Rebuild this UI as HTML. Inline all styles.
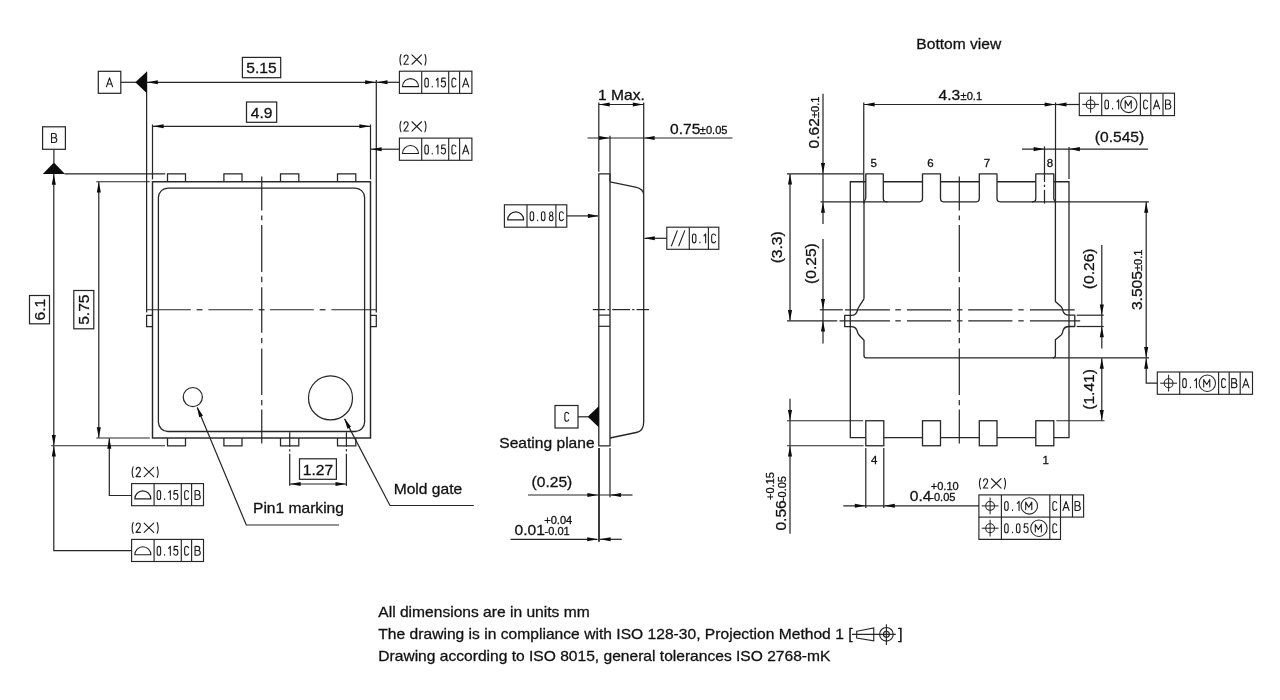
<!DOCTYPE html>
<html><head><meta charset="utf-8"><title>Package outline</title>
<style>
html,body{margin:0;padding:0;background:#fff;}
body{width:1280px;height:700px;overflow:hidden;font-family:"Liberation Sans",sans-serif;}
svg{display:block;filter:grayscale(1);}
svg text{font-family:"Liberation Sans",sans-serif;fill:#111;}
</style></head>
<body>
<svg width="1280" height="700" viewBox="0 0 1280 700">
<rect width="1280" height="700" fill="#fff"/>
<rect x="152.5" y="181.75" width="218" height="256.25" stroke="#262626" stroke-width="1.45" fill="none"/>
<rect x="158.4" y="188.1" width="206.2" height="243.4" rx="9.5" ry="9.5" stroke="#262626" stroke-width="1.3" fill="none"/>
<path d="M167.5 181.75L167.5 173.75L185.5 173.75L185.5 181.75" stroke="#262626" stroke-width="1.25" fill="none" />
<path d="M167.5 438L167.5 445.75L185.5 445.75L185.5 438" stroke="#262626" stroke-width="1.25" fill="none" />
<path d="M223.9 181.75L223.9 173.75L242.0 173.75L242.0 181.75" stroke="#262626" stroke-width="1.25" fill="none" />
<path d="M223.9 438L223.9 445.75L242.0 445.75L242.0 438" stroke="#262626" stroke-width="1.25" fill="none" />
<path d="M280.5 181.75L280.5 173.75L298.8 173.75L298.8 181.75" stroke="#262626" stroke-width="1.25" fill="none" />
<path d="M280.5 438L280.5 445.75L298.8 445.75L298.8 438" stroke="#262626" stroke-width="1.25" fill="none" />
<path d="M337.5 181.75L337.5 173.75L355.8 173.75L355.8 181.75" stroke="#262626" stroke-width="1.25" fill="none" />
<path d="M337.5 438L337.5 445.75L355.8 445.75L355.8 438" stroke="#262626" stroke-width="1.25" fill="none" />
<line x1="146.6" y1="71.75" x2="146.6" y2="312.4" stroke="#262626" stroke-width="1.25"/>
<line x1="376.3" y1="80" x2="376.3" y2="312.4" stroke="#262626" stroke-width="1.25"/>
<path d="M152.5 315.3L146.6 315.3L146.6 326.5L152.5 326.5" stroke="#262626" stroke-width="1.25" fill="none" />
<path d="M370.5 315.3L376.3 315.3L376.3 326.5L370.5 326.5" stroke="#262626" stroke-width="1.25" fill="none" />
<line x1="152.5" y1="124.5" x2="152.5" y2="179.4" stroke="#262626" stroke-width="1.22"/>
<line x1="370.5" y1="124.5" x2="370.5" y2="179.4" stroke="#262626" stroke-width="1.22"/>
<line x1="146.3" y1="309.75" x2="190.8" y2="309.75" stroke="#262626" stroke-width="1.22"/>
<line x1="196.6" y1="309.75" x2="202.5" y2="309.75" stroke="#262626" stroke-width="1.22"/>
<line x1="208.4" y1="309.75" x2="252.9" y2="309.75" stroke="#262626" stroke-width="1.22"/>
<line x1="258.7" y1="309.75" x2="264.5" y2="309.75" stroke="#262626" stroke-width="1.22"/>
<line x1="269.9" y1="309.75" x2="313.8" y2="309.75" stroke="#262626" stroke-width="1.22"/>
<line x1="319.7" y1="309.75" x2="325.5" y2="309.75" stroke="#262626" stroke-width="1.22"/>
<line x1="331.4" y1="309.75" x2="376.5" y2="309.75" stroke="#262626" stroke-width="1.22"/>
<line x1="261.75" y1="176.6" x2="261.75" y2="210.6" stroke="#262626" stroke-width="1.22"/>
<line x1="261.75" y1="215.5" x2="261.75" y2="220.2" stroke="#262626" stroke-width="1.22"/>
<line x1="261.75" y1="225" x2="261.75" y2="271.9" stroke="#262626" stroke-width="1.22"/>
<line x1="261.75" y1="276.8" x2="261.75" y2="282.2" stroke="#262626" stroke-width="1.22"/>
<line x1="261.75" y1="287.2" x2="261.75" y2="332.8" stroke="#262626" stroke-width="1.22"/>
<line x1="261.75" y1="338" x2="261.75" y2="343.2" stroke="#262626" stroke-width="1.22"/>
<line x1="261.75" y1="348.5" x2="261.75" y2="394.9" stroke="#262626" stroke-width="1.22"/>
<line x1="261.75" y1="399.9" x2="261.75" y2="405.3" stroke="#262626" stroke-width="1.22"/>
<line x1="261.75" y1="409.4" x2="261.75" y2="443.4" stroke="#262626" stroke-width="1.22"/>
<rect x="98.3" y="71.3" width="22.5" height="22" stroke="#262626" stroke-width="1.22" fill="none"/>
<line x1="120.8" y1="82.3" x2="136" y2="82.3" stroke="#262626" stroke-width="1.22"/>
<polygon points="135.3,82.3 146.9,71.4 146.9,93.2" fill="#0c0c0c"/>
<path transform="translate(106.45 77.85) scale(0.89)" d="M0 10L3.45 0L6.9 10M1.05 6.9L5.85 6.9" stroke="#1e1e1e" stroke-width="1.24" fill="none" stroke-linecap="round" stroke-linejoin="round"/>
<line x1="147" y1="82.3" x2="376" y2="82.3" stroke="#262626" stroke-width="1.22"/>
<polygon points="147.2,82.3 157.8,80.25 157.8,84.35" fill="#0c0c0c"/>
<polygon points="375.7,82.3 365.1,84.35 365.1,80.25" fill="#0c0c0c"/>
<rect x="242.4" y="57.4" width="38.3" height="20.3" stroke="#262626" stroke-width="1.22" fill="none"/>
<text transform="translate(261.5 73.4) scale(1 0.93)" font-size="15.6" text-anchor="middle" stroke="#111" stroke-width="0.3" >5.15</text>
<line x1="152.5" y1="126.3" x2="370.5" y2="126.3" stroke="#262626" stroke-width="1.22"/>
<polygon points="153,126.3 163.6,124.25 163.6,128.35" fill="#0c0c0c"/>
<polygon points="370,126.3 359.4,128.35 359.4,124.25" fill="#0c0c0c"/>
<rect x="246.5" y="102" width="30.2" height="20.3" stroke="#262626" stroke-width="1.22" fill="none"/>
<text transform="translate(261.6 117.9) scale(1 0.93)" font-size="15.6" text-anchor="middle" stroke="#111" stroke-width="0.3" >4.9</text>
<line x1="376.8" y1="82.3" x2="399.4" y2="82.3" stroke="#262626" stroke-width="1.22"/>
<polygon points="376.9,82.3 387.5,80.25 387.5,84.35" fill="#0c0c0c"/>
<rect x="399.4" y="71.2" width="72.5" height="22.2" stroke="#262626" stroke-width="1.15" fill="none"/>
<line x1="421.7" y1="71.2" x2="421.7" y2="93.4" stroke="#262626" stroke-width="1.15"/>
<line x1="448.7" y1="71.2" x2="448.7" y2="93.4" stroke="#262626" stroke-width="1.15"/>
<line x1="459.6" y1="71.2" x2="459.6" y2="93.4" stroke="#262626" stroke-width="1.15"/>
<path d="M402.5 86.6L418.5 86.6A8 8 0 0 0 402.5 86.6Z" stroke="#1e1e1e" stroke-width="1.1" fill="none" stroke-linejoin="round"/>
<path transform="translate(424.85 78.15) scale(0.89)" d="M1.95 0C0.75 0 0 1 0 2.6L0 7.4C0 9 0.75 10 1.95 10C3.15 10 3.9 9 3.9 7.4L3.9 2.6C3.9 1 3.15 0 1.95 0Z" stroke="#1e1e1e" stroke-width="1.24" fill="none" stroke-linecap="round" stroke-linejoin="round"/>
<path transform="translate(431.95 78.15) scale(0.89)" d="M0.3 9.2L0.3 10" stroke="#1e1e1e" stroke-width="1.24" fill="none" stroke-linecap="round" stroke-linejoin="round"/>
<path transform="translate(436.25 78.15) scale(0.89)" d="M0 2.2L1.9 0L1.9 10" stroke="#1e1e1e" stroke-width="1.24" fill="none" stroke-linecap="round" stroke-linejoin="round"/>
<path transform="translate(441.25 78.15) scale(0.89)" d="M4.5 0L0.7 0L0.3 4.4C1.1 3.6 1.8 3.4 2.5 3.4C3.9 3.4 4.8 4.7 4.8 6.7C4.8 8.7 3.8 10 2.4 10C1.3 10 0.5 9.4 0 8.2" stroke="#1e1e1e" stroke-width="1.24" fill="none" stroke-linecap="round" stroke-linejoin="round"/>
<path transform="translate(451.95 78.15) scale(0.89)" d="M4.4 1.6C4 0.6 3.3 0 2.3 0C0.85 0 0 1 0 2.6L0 7.4C0 9 0.85 10 2.3 10C3.3 10 4 9.4 4.4 8.4" stroke="#1e1e1e" stroke-width="1.24" fill="none" stroke-linecap="round" stroke-linejoin="round"/>
<path transform="translate(462.65 78.15) scale(0.89)" d="M0 10L3.45 0L6.9 10M1.05 6.9L5.85 6.9" stroke="#1e1e1e" stroke-width="1.24" fill="none" stroke-linecap="round" stroke-linejoin="round"/>
<path transform="translate(399.95 54.95) scale(0.93)" d="M1.1 -0.5C0.35 1.3 0 3.1 0 5.2C0 7.3 0.35 9.1 1.1 10.9" stroke="#1e1e1e" stroke-width="1.18" fill="none" stroke-linecap="round" stroke-linejoin="round"/>
<path transform="translate(403.85 54.95) scale(0.93)" d="M0.2 2.4C0.3 0.9 1.1 0 2.4 0C3.7 0 4.6 0.9 4.6 2.4C4.6 3.6 4 4.6 2.9 6L0 10L4.8 10" stroke="#1e1e1e" stroke-width="1.18" fill="none" stroke-linecap="round" stroke-linejoin="round"/>
<path transform="translate(411.95 54.95) scale(0.93)" d="M0 0L10.3 10M10.3 0L0 10" stroke="#1e1e1e" stroke-width="1.18" fill="none" stroke-linecap="round" stroke-linejoin="round"/>
<path transform="translate(424.95 54.95) scale(0.93)" d="M0 -0.5C0.75 1.3 1.1 3.1 1.1 5.2C1.1 7.3 0.75 9.1 0 10.9" stroke="#1e1e1e" stroke-width="1.18" fill="none" stroke-linecap="round" stroke-linejoin="round"/>
<rect x="399.4" y="138.1" width="72.5" height="22.2" stroke="#262626" stroke-width="1.15" fill="none"/>
<line x1="421.7" y1="138.1" x2="421.7" y2="160.3" stroke="#262626" stroke-width="1.15"/>
<line x1="448.7" y1="138.1" x2="448.7" y2="160.3" stroke="#262626" stroke-width="1.15"/>
<line x1="459.6" y1="138.1" x2="459.6" y2="160.3" stroke="#262626" stroke-width="1.15"/>
<path d="M402.5 153.5L418.5 153.5A8 8 0 0 0 402.5 153.5Z" stroke="#1e1e1e" stroke-width="1.1" fill="none" stroke-linejoin="round"/>
<path transform="translate(424.85 145.05) scale(0.89)" d="M1.95 0C0.75 0 0 1 0 2.6L0 7.4C0 9 0.75 10 1.95 10C3.15 10 3.9 9 3.9 7.4L3.9 2.6C3.9 1 3.15 0 1.95 0Z" stroke="#1e1e1e" stroke-width="1.24" fill="none" stroke-linecap="round" stroke-linejoin="round"/>
<path transform="translate(431.95 145.05) scale(0.89)" d="M0.3 9.2L0.3 10" stroke="#1e1e1e" stroke-width="1.24" fill="none" stroke-linecap="round" stroke-linejoin="round"/>
<path transform="translate(436.25 145.05) scale(0.89)" d="M0 2.2L1.9 0L1.9 10" stroke="#1e1e1e" stroke-width="1.24" fill="none" stroke-linecap="round" stroke-linejoin="round"/>
<path transform="translate(441.25 145.05) scale(0.89)" d="M4.5 0L0.7 0L0.3 4.4C1.1 3.6 1.8 3.4 2.5 3.4C3.9 3.4 4.8 4.7 4.8 6.7C4.8 8.7 3.8 10 2.4 10C1.3 10 0.5 9.4 0 8.2" stroke="#1e1e1e" stroke-width="1.24" fill="none" stroke-linecap="round" stroke-linejoin="round"/>
<path transform="translate(451.95 145.05) scale(0.89)" d="M4.4 1.6C4 0.6 3.3 0 2.3 0C0.85 0 0 1 0 2.6L0 7.4C0 9 0.85 10 2.3 10C3.3 10 4 9.4 4.4 8.4" stroke="#1e1e1e" stroke-width="1.24" fill="none" stroke-linecap="round" stroke-linejoin="round"/>
<path transform="translate(462.65 145.05) scale(0.89)" d="M0 10L3.45 0L6.9 10M1.05 6.9L5.85 6.9" stroke="#1e1e1e" stroke-width="1.24" fill="none" stroke-linecap="round" stroke-linejoin="round"/>
<path transform="translate(399.95 121.75) scale(0.93)" d="M1.1 -0.5C0.35 1.3 0 3.1 0 5.2C0 7.3 0.35 9.1 1.1 10.9" stroke="#1e1e1e" stroke-width="1.18" fill="none" stroke-linecap="round" stroke-linejoin="round"/>
<path transform="translate(403.85 121.75) scale(0.93)" d="M0.2 2.4C0.3 0.9 1.1 0 2.4 0C3.7 0 4.6 0.9 4.6 2.4C4.6 3.6 4 4.6 2.9 6L0 10L4.8 10" stroke="#1e1e1e" stroke-width="1.18" fill="none" stroke-linecap="round" stroke-linejoin="round"/>
<path transform="translate(411.95 121.75) scale(0.93)" d="M0 0L10.3 10M10.3 0L0 10" stroke="#1e1e1e" stroke-width="1.18" fill="none" stroke-linecap="round" stroke-linejoin="round"/>
<path transform="translate(424.95 121.75) scale(0.93)" d="M0 -0.5C0.75 1.3 1.1 3.1 1.1 5.2C1.1 7.3 0.75 9.1 0 10.9" stroke="#1e1e1e" stroke-width="1.18" fill="none" stroke-linecap="round" stroke-linejoin="round"/>
<line x1="371" y1="149.2" x2="399.4" y2="149.2" stroke="#262626" stroke-width="1.22"/>
<polygon points="371,149.2 381.6,147.15 381.6,151.25" fill="#0c0c0c"/>
<rect x="42.6" y="126.8" width="22.8" height="22.5" stroke="#262626" stroke-width="1.22" fill="none"/>
<line x1="53.9" y1="149.3" x2="53.9" y2="163.2" stroke="#262626" stroke-width="1.22"/>
<polygon points="53.9,162.5 42.8,173.9 65,173.9" fill="#0c0c0c"/>
<path transform="translate(51.55 133.55) scale(0.89)" d="M0 0L0 10L3 10C4.7 10 5.9 8.9 5.9 7.3C5.9 5.7 4.7 4.7 3 4.7L0 4.7M3 4.7C4.4 4.7 5.3 3.8 5.3 2.35C5.3 0.9 4.4 0 3 0L0 0" stroke="#1e1e1e" stroke-width="1.24" fill="none" stroke-linecap="round" stroke-linejoin="round"/>
<line x1="64.5" y1="173.8" x2="165.2" y2="173.8" stroke="#262626" stroke-width="1.22"/>
<line x1="53.8" y1="174" x2="53.8" y2="445.5" stroke="#262626" stroke-width="1.22"/>
<polygon points="53.8,174.1 55.85,184.7 51.75,184.7" fill="#0c0c0c"/>
<polygon points="53.8,445.6 51.75,435 55.85,435" fill="#0c0c0c"/>
<line x1="51.2" y1="445.75" x2="165" y2="445.75" stroke="#262626" stroke-width="1.22"/>
<line x1="96.3" y1="181.75" x2="149.8" y2="181.75" stroke="#262626" stroke-width="1.22"/>
<line x1="96.3" y1="438" x2="149.8" y2="438" stroke="#262626" stroke-width="1.22"/>
<line x1="98.8" y1="182" x2="98.8" y2="437.8" stroke="#262626" stroke-width="1.22"/>
<polygon points="98.8,182 100.85,192.6 96.75,192.6" fill="#0c0c0c"/>
<polygon points="98.8,437.8 96.75,427.2 100.85,427.2" fill="#0c0c0c"/>
<rect x="29.5" y="295.5" width="20" height="28.3" stroke="#262626" stroke-width="1.22" fill="none"/>
<text transform="translate(45.1 309.7) rotate(-90) scale(1 0.93)" font-size="15.6" text-anchor="middle" stroke="#111" stroke-width="0.3" >6.1</text>
<rect x="73.8" y="290.5" width="20" height="38.3" stroke="#262626" stroke-width="1.22" fill="none"/>
<text transform="translate(89.4 309.7) rotate(-90) scale(1 0.93)" font-size="15.6" text-anchor="middle" stroke="#111" stroke-width="0.3" >5.75</text>
<rect x="131.6" y="483.6" width="71.9" height="22.1" stroke="#262626" stroke-width="1.15" fill="none"/>
<line x1="154.1" y1="483.6" x2="154.1" y2="505.7" stroke="#262626" stroke-width="1.15"/>
<line x1="181.3" y1="483.6" x2="181.3" y2="505.7" stroke="#262626" stroke-width="1.15"/>
<line x1="191.6" y1="483.6" x2="191.6" y2="505.7" stroke="#262626" stroke-width="1.15"/>
<path d="M134.85 498.9L150.85 498.9A8 8 0 0 0 134.85 498.9Z" stroke="#1e1e1e" stroke-width="1.1" fill="none" stroke-linejoin="round"/>
<path transform="translate(157.15 490.55) scale(0.89)" d="M1.95 0C0.75 0 0 1 0 2.6L0 7.4C0 9 0.75 10 1.95 10C3.15 10 3.9 9 3.9 7.4L3.9 2.6C3.9 1 3.15 0 1.95 0Z" stroke="#1e1e1e" stroke-width="1.24" fill="none" stroke-linecap="round" stroke-linejoin="round"/>
<path transform="translate(164.35 490.55) scale(0.89)" d="M0.3 9.2L0.3 10" stroke="#1e1e1e" stroke-width="1.24" fill="none" stroke-linecap="round" stroke-linejoin="round"/>
<path transform="translate(168.65 490.55) scale(0.89)" d="M0 2.2L1.9 0L1.9 10" stroke="#1e1e1e" stroke-width="1.24" fill="none" stroke-linecap="round" stroke-linejoin="round"/>
<path transform="translate(173.65 490.55) scale(0.89)" d="M4.5 0L0.7 0L0.3 4.4C1.1 3.6 1.8 3.4 2.5 3.4C3.9 3.4 4.8 4.7 4.8 6.7C4.8 8.7 3.8 10 2.4 10C1.3 10 0.5 9.4 0 8.2" stroke="#1e1e1e" stroke-width="1.24" fill="none" stroke-linecap="round" stroke-linejoin="round"/>
<path transform="translate(184.65 490.55) scale(0.89)" d="M4.4 1.6C4 0.6 3.3 0 2.3 0C0.85 0 0 1 0 2.6L0 7.4C0 9 0.85 10 2.3 10C3.3 10 4 9.4 4.4 8.4" stroke="#1e1e1e" stroke-width="1.24" fill="none" stroke-linecap="round" stroke-linejoin="round"/>
<path transform="translate(195.05 490.55) scale(0.89)" d="M0 0L0 10L3 10C4.7 10 5.9 8.9 5.9 7.3C5.9 5.7 4.7 4.7 3 4.7L0 4.7M3 4.7C4.4 4.7 5.3 3.8 5.3 2.35C5.3 0.9 4.4 0 3 0L0 0" stroke="#1e1e1e" stroke-width="1.24" fill="none" stroke-linecap="round" stroke-linejoin="round"/>
<path transform="translate(132.15 467.35) scale(0.93)" d="M1.1 -0.5C0.35 1.3 0 3.1 0 5.2C0 7.3 0.35 9.1 1.1 10.9" stroke="#1e1e1e" stroke-width="1.18" fill="none" stroke-linecap="round" stroke-linejoin="round"/>
<path transform="translate(136.05 467.35) scale(0.93)" d="M0.2 2.4C0.3 0.9 1.1 0 2.4 0C3.7 0 4.6 0.9 4.6 2.4C4.6 3.6 4 4.6 2.9 6L0 10L4.8 10" stroke="#1e1e1e" stroke-width="1.18" fill="none" stroke-linecap="round" stroke-linejoin="round"/>
<path transform="translate(144.15 467.35) scale(0.93)" d="M0 0L10.3 10M10.3 0L0 10" stroke="#1e1e1e" stroke-width="1.18" fill="none" stroke-linecap="round" stroke-linejoin="round"/>
<path transform="translate(157.15 467.35) scale(0.93)" d="M0 -0.5C0.75 1.3 1.1 3.1 1.1 5.2C1.1 7.3 0.75 9.1 0 10.9" stroke="#1e1e1e" stroke-width="1.18" fill="none" stroke-linecap="round" stroke-linejoin="round"/>
<path d="M131.5 495.5L109.3 495.5L109.3 438.2" stroke="#262626" stroke-width="1.22" fill="none" />
<polygon points="109.3,438.2 111.35,448.8 107.25,448.8" fill="#0c0c0c"/>
<rect x="131.6" y="539.4" width="71.9" height="22.1" stroke="#262626" stroke-width="1.15" fill="none"/>
<line x1="154.1" y1="539.4" x2="154.1" y2="561.5" stroke="#262626" stroke-width="1.15"/>
<line x1="181.3" y1="539.4" x2="181.3" y2="561.5" stroke="#262626" stroke-width="1.15"/>
<line x1="191.6" y1="539.4" x2="191.6" y2="561.5" stroke="#262626" stroke-width="1.15"/>
<path d="M134.85 554.7L150.85 554.7A8 8 0 0 0 134.85 554.7Z" stroke="#1e1e1e" stroke-width="1.1" fill="none" stroke-linejoin="round"/>
<path transform="translate(157.15 546.35) scale(0.89)" d="M1.95 0C0.75 0 0 1 0 2.6L0 7.4C0 9 0.75 10 1.95 10C3.15 10 3.9 9 3.9 7.4L3.9 2.6C3.9 1 3.15 0 1.95 0Z" stroke="#1e1e1e" stroke-width="1.24" fill="none" stroke-linecap="round" stroke-linejoin="round"/>
<path transform="translate(164.35 546.35) scale(0.89)" d="M0.3 9.2L0.3 10" stroke="#1e1e1e" stroke-width="1.24" fill="none" stroke-linecap="round" stroke-linejoin="round"/>
<path transform="translate(168.65 546.35) scale(0.89)" d="M0 2.2L1.9 0L1.9 10" stroke="#1e1e1e" stroke-width="1.24" fill="none" stroke-linecap="round" stroke-linejoin="round"/>
<path transform="translate(173.65 546.35) scale(0.89)" d="M4.5 0L0.7 0L0.3 4.4C1.1 3.6 1.8 3.4 2.5 3.4C3.9 3.4 4.8 4.7 4.8 6.7C4.8 8.7 3.8 10 2.4 10C1.3 10 0.5 9.4 0 8.2" stroke="#1e1e1e" stroke-width="1.24" fill="none" stroke-linecap="round" stroke-linejoin="round"/>
<path transform="translate(184.65 546.35) scale(0.89)" d="M4.4 1.6C4 0.6 3.3 0 2.3 0C0.85 0 0 1 0 2.6L0 7.4C0 9 0.85 10 2.3 10C3.3 10 4 9.4 4.4 8.4" stroke="#1e1e1e" stroke-width="1.24" fill="none" stroke-linecap="round" stroke-linejoin="round"/>
<path transform="translate(195.05 546.35) scale(0.89)" d="M0 0L0 10L3 10C4.7 10 5.9 8.9 5.9 7.3C5.9 5.7 4.7 4.7 3 4.7L0 4.7M3 4.7C4.4 4.7 5.3 3.8 5.3 2.35C5.3 0.9 4.4 0 3 0L0 0" stroke="#1e1e1e" stroke-width="1.24" fill="none" stroke-linecap="round" stroke-linejoin="round"/>
<path transform="translate(132.15 523.05) scale(0.93)" d="M1.1 -0.5C0.35 1.3 0 3.1 0 5.2C0 7.3 0.35 9.1 1.1 10.9" stroke="#1e1e1e" stroke-width="1.18" fill="none" stroke-linecap="round" stroke-linejoin="round"/>
<path transform="translate(136.05 523.05) scale(0.93)" d="M0.2 2.4C0.3 0.9 1.1 0 2.4 0C3.7 0 4.6 0.9 4.6 2.4C4.6 3.6 4 4.6 2.9 6L0 10L4.8 10" stroke="#1e1e1e" stroke-width="1.18" fill="none" stroke-linecap="round" stroke-linejoin="round"/>
<path transform="translate(144.15 523.05) scale(0.93)" d="M0 0L10.3 10M10.3 0L0 10" stroke="#1e1e1e" stroke-width="1.18" fill="none" stroke-linecap="round" stroke-linejoin="round"/>
<path transform="translate(157.15 523.05) scale(0.93)" d="M0 -0.5C0.75 1.3 1.1 3.1 1.1 5.2C1.1 7.3 0.75 9.1 0 10.9" stroke="#1e1e1e" stroke-width="1.18" fill="none" stroke-linecap="round" stroke-linejoin="round"/>
<path d="M131.5 550.7L53.8 550.7L53.8 446" stroke="#262626" stroke-width="1.22" fill="none" />
<polygon points="53.8,446 55.85,456.6 51.75,456.6" fill="#0c0c0c"/>
<circle cx="192.8" cy="397.1" r="9.6" stroke="#262626" stroke-width="1.22" fill="none"/>
<path d="M197.3 407.6L246.3 525L339 525" stroke="#262626" stroke-width="1.22" fill="none" />
<polygon points="197,406.8 202.97,415.79 199.19,417.37" fill="#0c0c0c"/>
<text transform="translate(253 513.3) scale(1 0.93)" font-size="15.6" text-anchor="start" stroke="#111" stroke-width="0.3" >Pin1 marking</text>
<circle cx="330.5" cy="397.9" r="22" stroke="#262626" stroke-width="1.22" fill="none"/>
<path d="M344.6 418.9L390 505.5L473.8 505.5" stroke="#262626" stroke-width="1.22" fill="none" />
<polygon points="344.3,418.3 351.04,426.74 347.41,428.64" fill="#0c0c0c"/>
<text transform="translate(393.7 494.3) scale(1 0.93)" font-size="15.6" text-anchor="start" stroke="#111" stroke-width="0.3" >Mold gate</text>
<line x1="289.7" y1="432.3" x2="289.7" y2="446.8" stroke="#262626" stroke-width="1.22"/>
<line x1="289.7" y1="449.2" x2="289.7" y2="451.4" stroke="#262626" stroke-width="1.22"/>
<line x1="289.7" y1="453.8" x2="289.7" y2="485.8" stroke="#262626" stroke-width="1.22"/>
<line x1="346.4" y1="432.3" x2="346.4" y2="446.8" stroke="#262626" stroke-width="1.22"/>
<line x1="346.4" y1="449.2" x2="346.4" y2="451.4" stroke="#262626" stroke-width="1.22"/>
<line x1="346.4" y1="453.8" x2="346.4" y2="485.8" stroke="#262626" stroke-width="1.22"/>
<line x1="289.7" y1="484" x2="346.4" y2="484" stroke="#262626" stroke-width="1.22"/>
<polygon points="290,484 300.6,481.95 300.6,486.05" fill="#0c0c0c"/>
<polygon points="346.1,484 335.5,486.05 335.5,481.95" fill="#0c0c0c"/>
<rect x="299.5" y="458.8" width="36.9" height="20.5" stroke="#262626" stroke-width="1.22" fill="none"/>
<text transform="translate(318 474.5) scale(1 0.93)" font-size="15.6" text-anchor="middle" stroke="#111" stroke-width="0.3" >1.27</text>
<path d="M598.8 445.9L598.8 173.8L610 173.8L610 445.9Z" stroke="#262626" stroke-width="1.3" fill="none" />
<line x1="598.8" y1="315.1" x2="610" y2="315.1" stroke="#262626" stroke-width="1.2"/>
<line x1="598.8" y1="326.3" x2="610" y2="326.3" stroke="#262626" stroke-width="1.2"/>
<path d="M610 181.8L635.5 187.1C640.8 188.3 643.7 190.4 643.7 194.8L643.7 421.9C643.7 428.5 641.5 431.4 636.2 432.5L610 438" stroke="#262626" stroke-width="1.3" fill="none" />
<line x1="598.8" y1="102.5" x2="598.8" y2="171.8" stroke="#262626" stroke-width="1.22"/>
<line x1="643.7" y1="102.5" x2="643.7" y2="194" stroke="#262626" stroke-width="1.22"/>
<line x1="610" y1="135.8" x2="610" y2="181.4" stroke="#262626" stroke-width="1.22"/>
<line x1="598.8" y1="104.5" x2="643.7" y2="104.5" stroke="#262626" stroke-width="1.22"/>
<polygon points="599.1,104.5 609.7,102.45 609.7,106.55" fill="#0c0c0c"/>
<polygon points="643.4,104.5 632.8,106.55 632.8,102.45" fill="#0c0c0c"/>
<text transform="translate(598 100) scale(1 0.93)" font-size="15.6" text-anchor="start" stroke="#111" stroke-width="0.3" >1 Max.</text>
<line x1="587.5" y1="138" x2="732.5" y2="138" stroke="#262626" stroke-width="1.22"/>
<polygon points="609.7,138 599.1,140.05 599.1,135.95" fill="#0c0c0c"/>
<polygon points="644,138 654.6,135.95 654.6,140.05" fill="#0c0c0c"/>
<text transform="translate(670 133.8) scale(1 0.93)" font-size="15.6" text-anchor="start" stroke="#111" stroke-width="0.3" >0.75</text>
<text transform="translate(699.8 133.8) scale(1 0.93)" font-size="11.1" text-anchor="start" stroke="#111" stroke-width="0.3" >±0.05</text>
<rect x="504.4" y="204.8" width="62.4" height="22.4" stroke="#262626" stroke-width="1.15" fill="none"/>
<line x1="527" y1="204.8" x2="527" y2="227.2" stroke="#262626" stroke-width="1.15"/>
<line x1="555.9" y1="204.8" x2="555.9" y2="227.2" stroke="#262626" stroke-width="1.15"/>
<path d="M507.7 219.9L523.7 219.9A8 8 0 0 0 507.7 219.9Z" stroke="#1e1e1e" stroke-width="1.1" fill="none" stroke-linejoin="round"/>
<path transform="translate(530.15 211.75) scale(0.89)" d="M1.95 0C0.75 0 0 1 0 2.6L0 7.4C0 9 0.75 10 1.95 10C3.15 10 3.9 9 3.9 7.4L3.9 2.6C3.9 1 3.15 0 1.95 0Z" stroke="#1e1e1e" stroke-width="1.24" fill="none" stroke-linecap="round" stroke-linejoin="round"/>
<path transform="translate(537.35 211.75) scale(0.89)" d="M0.3 9.2L0.3 10" stroke="#1e1e1e" stroke-width="1.24" fill="none" stroke-linecap="round" stroke-linejoin="round"/>
<path transform="translate(541.45 211.75) scale(0.89)" d="M1.95 0C0.75 0 0 1 0 2.6L0 7.4C0 9 0.75 10 1.95 10C3.15 10 3.9 9 3.9 7.4L3.9 2.6C3.9 1 3.15 0 1.95 0Z" stroke="#1e1e1e" stroke-width="1.24" fill="none" stroke-linecap="round" stroke-linejoin="round"/>
<path transform="translate(549.35 211.75) scale(0.89)" d="M2.1 0C0.95 0 0.3 0.9 0.3 2.2C0.3 3.6 0.95 4.5 2.1 4.5C3.25 4.5 3.9 3.6 3.9 2.2C3.9 0.9 3.25 0 2.1 0ZM2.1 4.5C0.85 4.5 0 5.6 0 7.2C0 8.9 0.85 10 2.1 10C3.35 10 4.2 8.9 4.2 7.2C4.2 5.6 3.35 4.5 2.1 4.5Z" stroke="#1e1e1e" stroke-width="1.24" fill="none" stroke-linecap="round" stroke-linejoin="round"/>
<path transform="translate(559.45 211.75) scale(0.89)" d="M4.4 1.6C4 0.6 3.3 0 2.3 0C0.85 0 0 1 0 2.6L0 7.4C0 9 0.85 10 2.3 10C3.3 10 4 9.4 4.4 8.4" stroke="#1e1e1e" stroke-width="1.24" fill="none" stroke-linecap="round" stroke-linejoin="round"/>
<line x1="566.8" y1="215.9" x2="598" y2="215.9" stroke="#262626" stroke-width="1.22"/>
<polygon points="598.5,215.9 587.9,217.95 587.9,213.85" fill="#0c0c0c"/>
<rect x="666.8" y="227.2" width="52" height="22.1" stroke="#262626" stroke-width="1.15" fill="none"/>
<line x1="689.3" y1="227.2" x2="689.3" y2="249.3" stroke="#262626" stroke-width="1.15"/>
<line x1="708.4" y1="227.2" x2="708.4" y2="249.3" stroke="#262626" stroke-width="1.15"/>
<line x1="671.3" y1="246.3" x2="677.4" y2="230.4" stroke="#1e1e1e" stroke-width="1.1"/>
<line x1="678.6" y1="246.3" x2="684.9" y2="230.4" stroke="#1e1e1e" stroke-width="1.1"/>
<path transform="translate(692.45 233.95) scale(0.89)" d="M1.95 0C0.75 0 0 1 0 2.6L0 7.4C0 9 0.75 10 1.95 10C3.15 10 3.9 9 3.9 7.4L3.9 2.6C3.9 1 3.15 0 1.95 0Z" stroke="#1e1e1e" stroke-width="1.24" fill="none" stroke-linecap="round" stroke-linejoin="round"/>
<path transform="translate(699.65 233.95) scale(0.89)" d="M0.3 9.2L0.3 10" stroke="#1e1e1e" stroke-width="1.24" fill="none" stroke-linecap="round" stroke-linejoin="round"/>
<path transform="translate(703.95 233.95) scale(0.89)" d="M0 2.2L1.9 0L1.9 10" stroke="#1e1e1e" stroke-width="1.24" fill="none" stroke-linecap="round" stroke-linejoin="round"/>
<path transform="translate(711.65 233.95) scale(0.89)" d="M4.4 1.6C4 0.6 3.3 0 2.3 0C0.85 0 0 1 0 2.6L0 7.4C0 9 0.85 10 2.3 10C3.3 10 4 9.4 4.4 8.4" stroke="#1e1e1e" stroke-width="1.24" fill="none" stroke-linecap="round" stroke-linejoin="round"/>
<line x1="644.5" y1="238.3" x2="666.8" y2="238.3" stroke="#262626" stroke-width="1.22"/>
<polygon points="644.2,238.3 654.8,236.25 654.8,240.35" fill="#0c0c0c"/>
<line x1="592.8" y1="309.6" x2="605.3" y2="309.6" stroke="#262626" stroke-width="1.22"/>
<line x1="607.5" y1="309.6" x2="609.4" y2="309.6" stroke="#262626" stroke-width="1.22"/>
<line x1="612.2" y1="309.6" x2="630" y2="309.6" stroke="#262626" stroke-width="1.22"/>
<line x1="632.2" y1="309.6" x2="634.4" y2="309.6" stroke="#262626" stroke-width="1.22"/>
<line x1="636.6" y1="309.6" x2="649.1" y2="309.6" stroke="#262626" stroke-width="1.22"/>
<rect x="555" y="405.5" width="23" height="22.5" stroke="#262626" stroke-width="1.22" fill="none"/>
<path transform="translate(564.85 412.35) scale(0.89)" d="M4.4 1.6C4 0.6 3.3 0 2.3 0C0.85 0 0 1 0 2.6L0 7.4C0 9 0.85 10 2.3 10C3.3 10 4 9.4 4.4 8.4" stroke="#1e1e1e" stroke-width="1.24" fill="none" stroke-linecap="round" stroke-linejoin="round"/>
<line x1="578" y1="416.8" x2="588.5" y2="416.8" stroke="#262626" stroke-width="1.22"/>
<polygon points="587.7,416.8 599,406 599,427.6" fill="#0c0c0c"/>
<text transform="translate(499.3 447.6) scale(1 0.93)" font-size="15.6" text-anchor="start" stroke="#111" stroke-width="0.3" >Seating plane</text>
<line x1="599" y1="448.1" x2="599" y2="541.8" stroke="#262626" stroke-width="1.8"/>
<line x1="610" y1="448.1" x2="610" y2="497.2" stroke="#262626" stroke-width="1.22"/>
<line x1="528" y1="495" x2="610.5" y2="495" stroke="#262626" stroke-width="1.22"/>
<polygon points="598,495 587.4,497.05 587.4,492.95" fill="#0c0c0c"/>
<line x1="610.5" y1="495" x2="632.5" y2="495" stroke="#262626" stroke-width="1.22"/>
<polygon points="610.4,495 621,492.95 621,497.05" fill="#0c0c0c"/>
<text transform="translate(531.6 487.1) scale(1 0.93)" font-size="15.6" text-anchor="start" stroke="#111" stroke-width="0.3" >(0.25)</text>
<line x1="510.5" y1="539.3" x2="597.5" y2="539.3" stroke="#262626" stroke-width="1.22"/>
<polygon points="597.8,539.3 587.2,541.35 587.2,537.25" fill="#0c0c0c"/>
<line x1="600" y1="539.3" x2="621.8" y2="539.3" stroke="#262626" stroke-width="1.22"/>
<polygon points="600,539.3 610.6,537.25 610.6,541.35" fill="#0c0c0c"/>
<text transform="translate(514.6 534.9) scale(1 0.93)" font-size="15.6" text-anchor="start" stroke="#111" stroke-width="0.3" >0.01</text>
<text transform="translate(544.2 523.8) scale(1 0.93)" font-size="11.1" text-anchor="start" stroke="#111" stroke-width="0.3" >+0.04</text>
<text transform="translate(544.5 534.9) scale(1 0.93)" font-size="11.1" text-anchor="start" stroke="#111" stroke-width="0.3" >-0.01</text>
<text transform="translate(958.8 49.3) scale(1 0.93)" font-size="15.6" text-anchor="middle" stroke="#111" stroke-width="0.3" >Bottom view</text>
<path d="M850.3 313.6L850.3 181.75L866 181.75M883.3 181.75L922.5 181.75M940.5 181.75L979.3 181.75M997 181.75L1035.8 181.75M1053.8 181.75L1069 181.75L1069 313.6" stroke="#262626" stroke-width="1.3" fill="none" />
<path d="M850.3 328.4L850.3 437.6L865.8 437.6M883.8 437.6L922.5 437.6M940.5 437.6L979.3 437.6M997 437.6L1035.8 437.6M1053.8 437.6L1069 437.6L1069 328.4" stroke="#262626" stroke-width="1.3" fill="none" />
<line x1="850.3" y1="313.6" x2="850.3" y2="328.4" stroke="#262626" stroke-width="1.3"/>
<line x1="1069" y1="313.6" x2="1069" y2="328.4" stroke="#262626" stroke-width="1.3"/>
<path d="M864 298.8L864 203.5C864 200 865.8 200.5 865.8 197L865.8 173.8L883.3 173.8L883.3 198.6C883.3 200.6 884.4 201.8 886.4 201.8L919.4 201.8C921.4 201.8 922.5 200.6 922.5 198.6L922.5 173.8L940.5 173.8L940.5 198.6C940.5 200.6 941.6 201.8 943.6 201.8L976.2 201.8C978.2 201.8 979.3 200.6 979.3 198.6L979.3 173.8L997 173.8L997 198.6C997 200.6 998.1 201.8 1000.1 201.8L1032.7 201.8C1034.7 201.8 1035.8 200.6 1035.8 198.6L1035.8 173.8L1053.8 173.8L1053.8 198.6C1053.8 200.5 1055.4 200 1055.4 203.5L1055.4 301.4L1061.2 306.8C1063 308.5 1062.5 310.5 1063.5 312.3C1064.5 314.2 1066 315.2 1068.5 315.2L1074.8 315.2L1074.8 326.5L1068.5 326.5C1066 326.5 1064.5 327.5 1063.5 329.4C1062.5 331.2 1063 333.2 1061.2 334.9L1055.4 339.8L1055.4 355.5C1055.4 357.3 1054.8 357.9 1053 357.9L866.6 357.9C864.6 357.9 864 357.3 864 355.4L864 340.3L859.2 335.3C857.4 333.5 857.6 331.5 856.6 329.6C855.6 327.7 854 326.7 851.6 326.7L844.7 326.7L844.7 315.4L851.6 315.4C854 315.4 855.6 314.4 856.6 312.5C857.6 310.6 857.4 308.5 859.2 306.4L864 298.8" stroke="#262626" stroke-width="1.3" fill="none" stroke-linejoin="round"/>
<rect x="865.8" y="420.75" width="18" height="25" stroke="#262626" stroke-width="1.3" fill="none"/>
<rect x="922.5" y="420.75" width="18" height="25" stroke="#262626" stroke-width="1.3" fill="none"/>
<rect x="979.3" y="420.75" width="17.7" height="25" stroke="#262626" stroke-width="1.3" fill="none"/>
<rect x="1035.8" y="420.75" width="18" height="25" stroke="#262626" stroke-width="1.3" fill="none"/>
<text transform="translate(873.6 166.6) scale(1 0.93)" font-size="11.5" text-anchor="middle" stroke="#111" stroke-width="0.3" >5</text>
<text transform="translate(930.4 166.6) scale(1 0.93)" font-size="11.5" text-anchor="middle" stroke="#111" stroke-width="0.3" >6</text>
<text transform="translate(987 166.6) scale(1 0.93)" font-size="11.5" text-anchor="middle" stroke="#111" stroke-width="0.3" >7</text>
<text transform="translate(1050 166.6) scale(1 0.93)" font-size="11.5" text-anchor="middle" stroke="#111" stroke-width="0.3" >8</text>
<text transform="translate(874.2 463.8) scale(1 0.93)" font-size="11.5" text-anchor="middle" stroke="#111" stroke-width="0.3" >4</text>
<text transform="translate(1045.6 463.8) scale(1 0.93)" font-size="11.5" text-anchor="middle" stroke="#111" stroke-width="0.3" >1</text>
<line x1="959.3" y1="176.6" x2="959.3" y2="210.6" stroke="#262626" stroke-width="1.22"/>
<line x1="959.3" y1="215.5" x2="959.3" y2="220.2" stroke="#262626" stroke-width="1.22"/>
<line x1="959.3" y1="225" x2="959.3" y2="271.9" stroke="#262626" stroke-width="1.22"/>
<line x1="959.3" y1="276.8" x2="959.3" y2="282.2" stroke="#262626" stroke-width="1.22"/>
<line x1="959.3" y1="287.2" x2="959.3" y2="332.8" stroke="#262626" stroke-width="1.22"/>
<line x1="959.3" y1="338" x2="959.3" y2="343.2" stroke="#262626" stroke-width="1.22"/>
<line x1="959.3" y1="348.5" x2="959.3" y2="394.9" stroke="#262626" stroke-width="1.22"/>
<line x1="959.3" y1="399.9" x2="959.3" y2="405.3" stroke="#262626" stroke-width="1.22"/>
<line x1="959.3" y1="409.4" x2="959.3" y2="443.4" stroke="#262626" stroke-width="1.22"/>
<line x1="845" y1="309.8" x2="889.9" y2="309.8" stroke="#262626" stroke-width="1.22"/>
<line x1="895.3" y1="309.8" x2="900.8" y2="309.8" stroke="#262626" stroke-width="1.22"/>
<line x1="906.9" y1="309.8" x2="951.1" y2="309.8" stroke="#262626" stroke-width="1.22"/>
<line x1="957" y1="309.8" x2="962.5" y2="309.8" stroke="#262626" stroke-width="1.22"/>
<line x1="968.2" y1="309.8" x2="1012.4" y2="309.8" stroke="#262626" stroke-width="1.22"/>
<line x1="1018.3" y1="309.8" x2="1023.7" y2="309.8" stroke="#262626" stroke-width="1.22"/>
<line x1="1029.9" y1="309.8" x2="1074.7" y2="309.8" stroke="#262626" stroke-width="1.22"/>
<line x1="839.5" y1="320.85" x2="889.9" y2="320.85" stroke="#262626" stroke-width="1.22"/>
<line x1="895.3" y1="320.85" x2="900.8" y2="320.85" stroke="#262626" stroke-width="1.22"/>
<line x1="906.9" y1="320.85" x2="951.1" y2="320.85" stroke="#262626" stroke-width="1.22"/>
<line x1="957" y1="320.85" x2="962.5" y2="320.85" stroke="#262626" stroke-width="1.22"/>
<line x1="968.2" y1="320.85" x2="1012.4" y2="320.85" stroke="#262626" stroke-width="1.22"/>
<line x1="1018.3" y1="320.85" x2="1023.7" y2="320.85" stroke="#262626" stroke-width="1.22"/>
<line x1="1029.9" y1="320.85" x2="1080.2" y2="320.85" stroke="#262626" stroke-width="1.22"/>
<line x1="787" y1="320.85" x2="837.3" y2="320.85" stroke="#262626" stroke-width="1.22"/>
<line x1="819.8" y1="309.8" x2="842.8" y2="309.8" stroke="#262626" stroke-width="1.22"/>
<line x1="863.75" y1="102.5" x2="863.75" y2="203.5" stroke="#262626" stroke-width="1.22"/>
<line x1="1055.5" y1="102.5" x2="1055.5" y2="203.5" stroke="#262626" stroke-width="1.22"/>
<line x1="863.75" y1="104.5" x2="1055.5" y2="104.5" stroke="#262626" stroke-width="1.22"/>
<polygon points="864,104.5 874.6,102.45 874.6,106.55" fill="#0c0c0c"/>
<polygon points="1055.2,104.5 1044.6,106.55 1044.6,102.45" fill="#0c0c0c"/>
<text transform="translate(938.5 100.1) scale(1 0.93)" font-size="15.6" text-anchor="start" stroke="#111" stroke-width="0.3" >4.3</text>
<text transform="translate(960.6 100.1) scale(1 0.93)" font-size="11.1" text-anchor="start" stroke="#111" stroke-width="0.3" >±0.1</text>
<line x1="1056" y1="104.5" x2="1079.3" y2="104.5" stroke="#262626" stroke-width="1.22"/>
<polygon points="1055.9,104.5 1066.5,102.45 1066.5,106.55" fill="#0c0c0c"/>
<rect x="1079.3" y="93.2" width="95.2" height="22.4" stroke="#262626" stroke-width="1.15" fill="none"/>
<line x1="1101.7" y1="93.2" x2="1101.7" y2="115.6" stroke="#262626" stroke-width="1.15"/>
<line x1="1140.4" y1="93.2" x2="1140.4" y2="115.6" stroke="#262626" stroke-width="1.15"/>
<line x1="1150.8" y1="93.2" x2="1150.8" y2="115.6" stroke="#262626" stroke-width="1.15"/>
<line x1="1163" y1="93.2" x2="1163" y2="115.6" stroke="#262626" stroke-width="1.15"/>
<circle cx="1090.6" cy="104.4" r="4.4" stroke="#262626" stroke-width="1.05" fill="none"/>
<line x1="1082.2" y1="104.4" x2="1099" y2="104.4" stroke="#262626" stroke-width="1.05"/>
<line x1="1090.6" y1="96" x2="1090.6" y2="112.8" stroke="#262626" stroke-width="1.05"/>
<path transform="translate(1104.95 99.95) scale(0.9)" d="M1.95 0C0.75 0 0 1 0 2.6L0 7.4C0 9 0.75 10 1.95 10C3.15 10 3.9 9 3.9 7.4L3.9 2.6C3.9 1 3.15 0 1.95 0Z" stroke="#1e1e1e" stroke-width="1.22" fill="none" stroke-linecap="round" stroke-linejoin="round"/>
<path transform="translate(1112.35 99.95) scale(0.9)" d="M0.3 9.2L0.3 10" stroke="#1e1e1e" stroke-width="1.22" fill="none" stroke-linecap="round" stroke-linejoin="round"/>
<path transform="translate(1116.95 99.95) scale(0.9)" d="M0 2.2L1.9 0L1.9 10" stroke="#1e1e1e" stroke-width="1.22" fill="none" stroke-linecap="round" stroke-linejoin="round"/>
<circle cx="1128.8" cy="104.4" r="8.2" stroke="#262626" stroke-width="1.05" fill="none"/>
<path transform="translate(1125.2 100.65) scale(0.76)" d="M0 10L0 0L4 6.6L8 0L8 10" stroke="#1e1e1e" stroke-width="1.45" fill="none" stroke-linecap="round" stroke-linejoin="round"/>
<path transform="translate(1143.65 99.95) scale(0.9)" d="M4.4 1.6C4 0.6 3.3 0 2.3 0C0.85 0 0 1 0 2.6L0 7.4C0 9 0.85 10 2.3 10C3.3 10 4 9.4 4.4 8.4" stroke="#1e1e1e" stroke-width="1.22" fill="none" stroke-linecap="round" stroke-linejoin="round"/>
<path transform="translate(1153.45 99.95) scale(0.9)" d="M0 10L3.45 0L6.9 10M1.05 6.9L5.85 6.9" stroke="#1e1e1e" stroke-width="1.22" fill="none" stroke-linecap="round" stroke-linejoin="round"/>
<path transform="translate(1165.55 99.95) scale(0.9)" d="M0 0L0 10L3 10C4.7 10 5.9 8.9 5.9 7.3C5.9 5.7 4.7 4.7 3 4.7L0 4.7M3 4.7C4.4 4.7 5.3 3.8 5.3 2.35C5.3 0.9 4.4 0 3 0L0 0" stroke="#1e1e1e" stroke-width="1.22" fill="none" stroke-linecap="round" stroke-linejoin="round"/>
<line x1="1022" y1="149.1" x2="1148" y2="149.1" stroke="#262626" stroke-width="1.22"/>
<polygon points="1044.2,149.1 1033.6,151.15 1033.6,147.05" fill="#0c0c0c"/>
<polygon points="1069.3,149.1 1079.9,147.05 1079.9,151.15" fill="#0c0c0c"/>
<text transform="translate(1094.8 142) scale(1 0.93)" font-size="15.6" text-anchor="start" stroke="#111" stroke-width="0.3" >(0.545)</text>
<line x1="1044.5" y1="146.4" x2="1044.5" y2="181.9" stroke="#262626" stroke-width="1.22"/>
<line x1="1044.5" y1="184.7" x2="1044.5" y2="187" stroke="#262626" stroke-width="1.22"/>
<line x1="1044.5" y1="189.9" x2="1044.5" y2="203.6" stroke="#262626" stroke-width="1.22"/>
<line x1="1069" y1="147" x2="1069" y2="179" stroke="#262626" stroke-width="1.22"/>
<line x1="787" y1="173.8" x2="863.75" y2="173.8" stroke="#262626" stroke-width="1.22"/>
<line x1="820.5" y1="201.8" x2="887.5" y2="201.8" stroke="#262626" stroke-width="1.22"/>
<line x1="1032" y1="201.8" x2="1149" y2="201.8" stroke="#262626" stroke-width="1.22"/>
<line x1="823" y1="93.8" x2="823" y2="201.8" stroke="#262626" stroke-width="1.22"/>
<polygon points="823,173.6 820.95,163 825.05,163" fill="#0c0c0c"/>
<line x1="823" y1="202" x2="823" y2="224.1" stroke="#262626" stroke-width="1.22"/>
<polygon points="823,202.2 825.05,212.8 820.95,212.8" fill="#0c0c0c"/>
<line x1="823" y1="239.1" x2="823" y2="321" stroke="#262626" stroke-width="1.22"/>
<polygon points="823,309.6 820.95,299 825.05,299" fill="#0c0c0c"/>
<text transform="translate(818.8 122.5) rotate(-90) scale(1 0.93)" font-size="15.6" text-anchor="middle" stroke="#111" stroke-width="0.3" >0.62<tspan font-size="11.1">±0.1</tspan></text>
<line x1="790" y1="174" x2="790" y2="320.6" stroke="#262626" stroke-width="1.22"/>
<polygon points="790,174 792.05,184.6 787.95,184.6" fill="#0c0c0c"/>
<polygon points="790,320.7 787.95,310.1 792.05,310.1" fill="#0c0c0c"/>
<text transform="translate(781.8 247.3) rotate(-90) scale(1 0.93)" font-size="15.6" text-anchor="middle" stroke="#111" stroke-width="0.3" >(3.3)</text>
<text transform="translate(815.5 263.6) rotate(-90) scale(1 0.93)" font-size="15.6" text-anchor="middle" stroke="#111" stroke-width="0.3" >(0.25)</text>
<line x1="823" y1="321" x2="823" y2="343.5" stroke="#262626" stroke-width="1.22"/>
<polygon points="823,321 825.05,331.6 820.95,331.6" fill="#0c0c0c"/>
<line x1="1053" y1="357.9" x2="1149" y2="357.9" stroke="#262626" stroke-width="1.22"/>
<line x1="1146.2" y1="202" x2="1146.2" y2="357.7" stroke="#262626" stroke-width="1.22"/>
<polygon points="1146.2,202.1 1148.25,212.7 1144.15,212.7" fill="#0c0c0c"/>
<polygon points="1146.2,357.7 1144.15,347.1 1148.25,347.1" fill="#0c0c0c"/>
<text transform="translate(1142.4 279.8) rotate(-90) scale(1 0.93)" font-size="15.6" text-anchor="middle" stroke="#111" stroke-width="0.3" >3.505<tspan font-size="11.1">±0.1</tspan></text>
<path d="M1157.3 383.2L1146.2 383.2L1146.2 358.2" stroke="#262626" stroke-width="1.22" fill="none" />
<polygon points="1146.2,358.2 1148.25,368.8 1144.15,368.8" fill="#0c0c0c"/>
<rect x="1157.3" y="372" width="95.2" height="22.3" stroke="#262626" stroke-width="1.15" fill="none"/>
<line x1="1179.7" y1="372" x2="1179.7" y2="394.3" stroke="#262626" stroke-width="1.15"/>
<line x1="1218.6" y1="372" x2="1218.6" y2="394.3" stroke="#262626" stroke-width="1.15"/>
<line x1="1229.2" y1="372" x2="1229.2" y2="394.3" stroke="#262626" stroke-width="1.15"/>
<line x1="1240.2" y1="372" x2="1240.2" y2="394.3" stroke="#262626" stroke-width="1.15"/>
<circle cx="1168.6" cy="383.2" r="4.4" stroke="#262626" stroke-width="1.05" fill="none"/>
<line x1="1160.2" y1="383.2" x2="1177" y2="383.2" stroke="#262626" stroke-width="1.05"/>
<line x1="1168.6" y1="374.8" x2="1168.6" y2="391.6" stroke="#262626" stroke-width="1.05"/>
<path transform="translate(1182.75 378.65) scale(0.9)" d="M1.95 0C0.75 0 0 1 0 2.6L0 7.4C0 9 0.75 10 1.95 10C3.15 10 3.9 9 3.9 7.4L3.9 2.6C3.9 1 3.15 0 1.95 0Z" stroke="#1e1e1e" stroke-width="1.22" fill="none" stroke-linecap="round" stroke-linejoin="round"/>
<path transform="translate(1190.15 378.65) scale(0.9)" d="M0.3 9.2L0.3 10" stroke="#1e1e1e" stroke-width="1.22" fill="none" stroke-linecap="round" stroke-linejoin="round"/>
<path transform="translate(1194.75 378.65) scale(0.9)" d="M0 2.2L1.9 0L1.9 10" stroke="#1e1e1e" stroke-width="1.22" fill="none" stroke-linecap="round" stroke-linejoin="round"/>
<circle cx="1207.3" cy="383.2" r="8.2" stroke="#262626" stroke-width="1.05" fill="none"/>
<path transform="translate(1203.7 379.45) scale(0.76)" d="M0 10L0 0L4 6.6L8 0L8 10" stroke="#1e1e1e" stroke-width="1.45" fill="none" stroke-linecap="round" stroke-linejoin="round"/>
<path transform="translate(1221.65 378.65) scale(0.9)" d="M4.4 1.6C4 0.6 3.3 0 2.3 0C0.85 0 0 1 0 2.6L0 7.4C0 9 0.85 10 2.3 10C3.3 10 4 9.4 4.4 8.4" stroke="#1e1e1e" stroke-width="1.22" fill="none" stroke-linecap="round" stroke-linejoin="round"/>
<path transform="translate(1231.65 378.65) scale(0.9)" d="M0 0L0 10L3 10C4.7 10 5.9 8.9 5.9 7.3C5.9 5.7 4.7 4.7 3 4.7L0 4.7M3 4.7C4.4 4.7 5.3 3.8 5.3 2.35C5.3 0.9 4.4 0 3 0L0 0" stroke="#1e1e1e" stroke-width="1.22" fill="none" stroke-linecap="round" stroke-linejoin="round"/>
<path transform="translate(1242.75 378.65) scale(0.9)" d="M0 10L3.45 0L6.9 10M1.05 6.9L5.85 6.9" stroke="#1e1e1e" stroke-width="1.22" fill="none" stroke-linecap="round" stroke-linejoin="round"/>
<line x1="1076.7" y1="315.2" x2="1103.7" y2="315.2" stroke="#262626" stroke-width="1.22"/>
<line x1="1076.7" y1="326.5" x2="1103.7" y2="326.5" stroke="#262626" stroke-width="1.22"/>
<line x1="1101.8" y1="245" x2="1101.8" y2="326.6" stroke="#262626" stroke-width="1.22"/>
<polygon points="1101.8,315.1 1099.75,304.5 1103.85,304.5" fill="#0c0c0c"/>
<line x1="1101.8" y1="326.6" x2="1101.8" y2="348.6" stroke="#262626" stroke-width="1.22"/>
<polygon points="1101.8,326.6 1103.85,337.2 1099.75,337.2" fill="#0c0c0c"/>
<text transform="translate(1094.3 268.8) rotate(-90) scale(1 0.93)" font-size="15.6" text-anchor="middle" stroke="#111" stroke-width="0.3" >(0.26)</text>
<line x1="1056.3" y1="420.75" x2="1104.5" y2="420.75" stroke="#262626" stroke-width="1.22"/>
<line x1="1101.8" y1="358.2" x2="1101.8" y2="420.5" stroke="#262626" stroke-width="1.22"/>
<polygon points="1101.8,358.2 1103.85,368.8 1099.75,368.8" fill="#0c0c0c"/>
<polygon points="1101.8,420.6 1099.75,410 1103.85,410" fill="#0c0c0c"/>
<text transform="translate(1094.3 389.4) rotate(-90) scale(1 0.93)" font-size="15.6" text-anchor="middle" stroke="#111" stroke-width="0.3" >(1.41)</text>
<line x1="787" y1="420.75" x2="863.2" y2="420.75" stroke="#262626" stroke-width="1.22"/>
<line x1="787" y1="445.75" x2="863.6" y2="445.75" stroke="#262626" stroke-width="1.22"/>
<line x1="790" y1="398.8" x2="790" y2="446" stroke="#262626" stroke-width="1.22"/>
<polygon points="790,420.6 787.95,410 792.05,410" fill="#0c0c0c"/>
<line x1="790" y1="446" x2="790" y2="533.8" stroke="#262626" stroke-width="1.22"/>
<polygon points="790,446 792.05,456.6 787.95,456.6" fill="#0c0c0c"/>
<text transform="translate(785.5 530.6) rotate(-90) scale(1 0.93)" font-size="15.6" text-anchor="start" stroke="#111" stroke-width="0.3" >0.56</text>
<text transform="translate(773.6 499.9) rotate(-90) scale(1 0.93)" font-size="11" text-anchor="start" stroke="#111" stroke-width="0.3" >+0.15</text>
<text transform="translate(785.5 501.1) rotate(-90) scale(1 0.93)" font-size="11" text-anchor="start" stroke="#111" stroke-width="0.3" >-0.05</text>
<line x1="865.8" y1="448" x2="865.8" y2="508" stroke="#262626" stroke-width="1.22"/>
<line x1="883.8" y1="448" x2="883.8" y2="508" stroke="#262626" stroke-width="1.22"/>
<line x1="843.3" y1="505.8" x2="884.2" y2="505.8" stroke="#262626" stroke-width="1.22"/>
<polygon points="865.4,505.8 854.8,507.85 854.8,503.75" fill="#0c0c0c"/>
<line x1="884.2" y1="505.8" x2="979" y2="505.8" stroke="#262626" stroke-width="1.22"/>
<polygon points="884.2,505.8 894.8,503.75 894.8,507.85" fill="#0c0c0c"/>
<text transform="translate(909.8 501.3) scale(1 0.93)" font-size="15.6" text-anchor="start" stroke="#111" stroke-width="0.3" >0.4</text>
<text transform="translate(930.7 490.4) scale(1 0.93)" font-size="11.1" text-anchor="start" stroke="#111" stroke-width="0.3" >+0.10</text>
<text transform="translate(930.2 501.3) scale(1 0.93)" font-size="11.1" text-anchor="start" stroke="#111" stroke-width="0.3" >-0.05</text>
<path transform="translate(979.45 478.75) scale(0.93)" d="M1.1 -0.5C0.35 1.3 0 3.1 0 5.2C0 7.3 0.35 9.1 1.1 10.9" stroke="#1e1e1e" stroke-width="1.18" fill="none" stroke-linecap="round" stroke-linejoin="round"/>
<path transform="translate(983.35 478.75) scale(0.93)" d="M0.2 2.4C0.3 0.9 1.1 0 2.4 0C3.7 0 4.6 0.9 4.6 2.4C4.6 3.6 4 4.6 2.9 6L0 10L4.8 10" stroke="#1e1e1e" stroke-width="1.18" fill="none" stroke-linecap="round" stroke-linejoin="round"/>
<path transform="translate(991.45 478.75) scale(0.93)" d="M0 0L10.3 10M10.3 0L0 10" stroke="#1e1e1e" stroke-width="1.18" fill="none" stroke-linecap="round" stroke-linejoin="round"/>
<path transform="translate(1004.45 478.75) scale(0.93)" d="M0 -0.5C0.75 1.3 1.1 3.1 1.1 5.2C1.1 7.3 0.75 9.1 0 10.9" stroke="#1e1e1e" stroke-width="1.18" fill="none" stroke-linecap="round" stroke-linejoin="round"/>
<rect x="978.9" y="494.9" width="104.7" height="22.2" stroke="#262626" stroke-width="1.15" fill="none"/>
<path d="M978.9 517.1L978.9 539.4L1060.5 539.4L1060.5 517.1" stroke="#262626" stroke-width="1.15" fill="none" />
<line x1="1001.4" y1="494.9" x2="1001.4" y2="539.4" stroke="#262626" stroke-width="1.15"/>
<line x1="1049.8" y1="494.9" x2="1049.8" y2="539.4" stroke="#262626" stroke-width="1.15"/>
<line x1="1060.5" y1="494.9" x2="1060.5" y2="517.1" stroke="#262626" stroke-width="1.15"/>
<line x1="1072.5" y1="494.9" x2="1072.5" y2="517.1" stroke="#262626" stroke-width="1.15"/>
<circle cx="990.1" cy="505.9" r="4.4" stroke="#262626" stroke-width="1.05" fill="none"/>
<line x1="981.7" y1="505.9" x2="998.5" y2="505.9" stroke="#262626" stroke-width="1.05"/>
<line x1="990.1" y1="497.5" x2="990.1" y2="514.3" stroke="#262626" stroke-width="1.05"/>
<circle cx="990.1" cy="528.2" r="4.4" stroke="#262626" stroke-width="1.05" fill="none"/>
<line x1="981.7" y1="528.2" x2="998.5" y2="528.2" stroke="#262626" stroke-width="1.05"/>
<line x1="990.1" y1="519.8" x2="990.1" y2="536.6" stroke="#262626" stroke-width="1.05"/>
<path transform="translate(1004.65 501.45) scale(0.9)" d="M1.95 0C0.75 0 0 1 0 2.6L0 7.4C0 9 0.75 10 1.95 10C3.15 10 3.9 9 3.9 7.4L3.9 2.6C3.9 1 3.15 0 1.95 0Z" stroke="#1e1e1e" stroke-width="1.22" fill="none" stroke-linecap="round" stroke-linejoin="round"/>
<path transform="translate(1012.25 501.45) scale(0.9)" d="M0.3 9.2L0.3 10" stroke="#1e1e1e" stroke-width="1.22" fill="none" stroke-linecap="round" stroke-linejoin="round"/>
<path transform="translate(1017.35 501.45) scale(0.9)" d="M0 2.2L1.9 0L1.9 10" stroke="#1e1e1e" stroke-width="1.22" fill="none" stroke-linecap="round" stroke-linejoin="round"/>
<circle cx="1029.3" cy="505.9" r="8.2" stroke="#262626" stroke-width="1.05" fill="none"/>
<path transform="translate(1025.7 502.15) scale(0.76)" d="M0 10L0 0L4 6.6L8 0L8 10" stroke="#1e1e1e" stroke-width="1.45" fill="none" stroke-linecap="round" stroke-linejoin="round"/>
<path transform="translate(1052.85 501.45) scale(0.9)" d="M4.4 1.6C4 0.6 3.3 0 2.3 0C0.85 0 0 1 0 2.6L0 7.4C0 9 0.85 10 2.3 10C3.3 10 4 9.4 4.4 8.4" stroke="#1e1e1e" stroke-width="1.22" fill="none" stroke-linecap="round" stroke-linejoin="round"/>
<path transform="translate(1062.95 501.45) scale(0.9)" d="M0 10L3.45 0L6.9 10M1.05 6.9L5.85 6.9" stroke="#1e1e1e" stroke-width="1.22" fill="none" stroke-linecap="round" stroke-linejoin="round"/>
<path transform="translate(1075.05 501.45) scale(0.9)" d="M0 0L0 10L3 10C4.7 10 5.9 8.9 5.9 7.3C5.9 5.7 4.7 4.7 3 4.7L0 4.7M3 4.7C4.4 4.7 5.3 3.8 5.3 2.35C5.3 0.9 4.4 0 3 0L0 0" stroke="#1e1e1e" stroke-width="1.22" fill="none" stroke-linecap="round" stroke-linejoin="round"/>
<path transform="translate(1004.65 523.75) scale(0.9)" d="M1.95 0C0.75 0 0 1 0 2.6L0 7.4C0 9 0.75 10 1.95 10C3.15 10 3.9 9 3.9 7.4L3.9 2.6C3.9 1 3.15 0 1.95 0Z" stroke="#1e1e1e" stroke-width="1.22" fill="none" stroke-linecap="round" stroke-linejoin="round"/>
<path transform="translate(1012.25 523.75) scale(0.9)" d="M0.3 9.2L0.3 10" stroke="#1e1e1e" stroke-width="1.22" fill="none" stroke-linecap="round" stroke-linejoin="round"/>
<path transform="translate(1016.45 523.75) scale(0.9)" d="M1.95 0C0.75 0 0 1 0 2.6L0 7.4C0 9 0.75 10 1.95 10C3.15 10 3.9 9 3.9 7.4L3.9 2.6C3.9 1 3.15 0 1.95 0Z" stroke="#1e1e1e" stroke-width="1.22" fill="none" stroke-linecap="round" stroke-linejoin="round"/>
<path transform="translate(1023.85 523.75) scale(0.9)" d="M4.5 0L0.7 0L0.3 4.4C1.1 3.6 1.8 3.4 2.5 3.4C3.9 3.4 4.8 4.7 4.8 6.7C4.8 8.7 3.8 10 2.4 10C1.3 10 0.5 9.4 0 8.2" stroke="#1e1e1e" stroke-width="1.22" fill="none" stroke-linecap="round" stroke-linejoin="round"/>
<circle cx="1038.9" cy="528.2" r="8.2" stroke="#262626" stroke-width="1.05" fill="none"/>
<path transform="translate(1035.3 524.45) scale(0.76)" d="M0 10L0 0L4 6.6L8 0L8 10" stroke="#1e1e1e" stroke-width="1.45" fill="none" stroke-linecap="round" stroke-linejoin="round"/>
<path transform="translate(1052.85 523.75) scale(0.9)" d="M4.4 1.6C4 0.6 3.3 0 2.3 0C0.85 0 0 1 0 2.6L0 7.4C0 9 0.85 10 2.3 10C3.3 10 4 9.4 4.4 8.4" stroke="#1e1e1e" stroke-width="1.22" fill="none" stroke-linecap="round" stroke-linejoin="round"/>
<text transform="translate(378.3 617) scale(1 0.93)" font-size="15.6" text-anchor="start" stroke="#111" stroke-width="0.3" >All dimensions are in units mm</text>
<text transform="translate(378.3 638.8) scale(1 0.93)" font-size="15.6" text-anchor="start" stroke="#111" stroke-width="0.3" letter-spacing="0.02">The drawing is in compliance with ISO 128-30, Projection Method 1 [</text>
<text transform="translate(378.3 661.2) scale(1 0.93)" font-size="15.6" text-anchor="start" stroke="#111" stroke-width="0.3" >Drawing according to ISO 8015, general tolerances ISO 2768-mK</text>
<text transform="translate(898.2 638.8) scale(1 0.93)" font-size="15.6" text-anchor="start" stroke="#111" stroke-width="0.3" >]</text>
<line x1="852" y1="634.3" x2="895.8" y2="634.3" stroke="#262626" stroke-width="1.15"/>
<path d="M856.7 631.3L873.75 628L873.75 640.9L856.7 638.1Z" stroke="#262626" stroke-width="1.15" fill="none" />
<circle cx="886.4" cy="634.3" r="6.8" stroke="#262626" stroke-width="1.15" fill="none"/>
<circle cx="886.4" cy="634.3" r="3" stroke="#262626" stroke-width="1.15" fill="none"/>
<line x1="886.4" y1="624.3" x2="886.4" y2="645" stroke="#262626" stroke-width="1.15"/>
</svg>
</body></html>
